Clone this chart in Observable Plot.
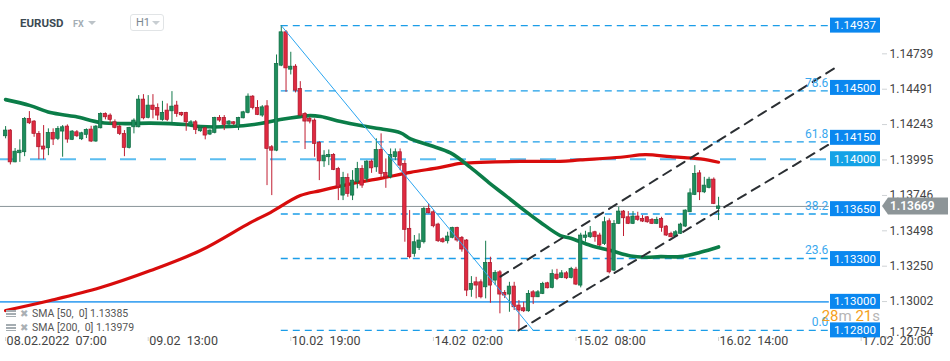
<!DOCTYPE html>
<html><head><meta charset="utf-8">
<script src="https://cdn.jsdelivr.net/npm/d3@7"></script>
<script src="https://cdn.jsdelivr.net/npm/@observablehq/plot@0.6"></script>
<style>
body{margin:0;background:#fff;font-family:Roboto,"Noto Sans",sans-serif;}
#wrap{position:relative;width:950px;height:361px;overflow:hidden;background:#fff;}
#wrap svg text{white-space:pre;}
.ov{position:absolute;white-space:pre;}
#sym{left:20px;top:16px;font-size:11.5px;font-weight:700;color:#3c4953;line-height:14px;}
#fx{left:73px;top:18px;font-size:9px;font-weight:700;color:#a3adb4;line-height:12px;}
.tri{position:absolute;width:0;height:0;border-left:4px solid transparent;border-right:4px solid transparent;border-top:4px solid #bcc3c8;}
#tf{left:130px;top:14px;width:34px;height:17px;border:1px solid #e1e4e6;border-radius:3px;box-sizing:border-box;}
#tf span{position:absolute;left:5px;top:1px;font-size:11px;color:#7b8790;line-height:14px;}
.leg{left:6px;font-size:10.5px;color:#555;line-height:12px;}
.ic{display:inline-block;width:10px;height:7px;vertical-align:0px;background:linear-gradient(#a5adb2 0 2px,transparent 2px 3px,#a5adb2 3px 5px,transparent 5px 6px,#a5adb2 6px 7px);}
.x{display:inline-block;color:#aab0b4;font-size:10px;margin:0 4px 0 4px;}
#cd{right:70px;top:307px;font-size:15px;line-height:18px;color:#b5b5b5;}
#cd b{font-weight:400;color:#f5a020;}
</style></head><body><div id="wrap"></div><script>
// ---- data ----
const open = [1.14161,1.14201,1.13978,1.14042,1.14049,1.14283,1.14264,1.14178,1.14089,1.14077,
1.14185,1.14143,1.14194,1.14229,1.14136,1.14189,1.14140,1.14171,1.14208,1.14124,
1.14217,1.14318,1.14306,1.14259,1.14229,1.14178,1.14079,1.14224,1.14224,1.14418,
1.14290,1.14376,1.14360,1.14276,1.14341,1.14336,1.14376,1.14325,1.14325,1.14236,
1.14259,1.14196,1.14217,1.14173,1.14185,1.14290,1.14290,1.14243,1.14259,1.14224,
1.14287,1.14325,1.14439,1.14360,1.14306,1.14371,1.14084,1.14060,1.14656,1.14890,
1.14628,1.14649,1.14493,1.14318,1.14283,1.14271,1.14114,1.13985,1.14014,1.14030,
1.13932,1.13745,1.13869,1.13745,1.13838,1.13932,1.13862,1.13983,1.13943,1.14065,
1.13904,1.13873,1.14014,1.14049,1.13967,1.13512,1.13336,1.13378,1.13418,1.13652,
1.13628,1.13542,1.13439,1.13425,1.13449,1.13519,1.13449,1.13430,1.13084,1.13137,
1.13137,1.13102,1.13273,1.13149,1.13207,1.13063,1.13051,1.13107,1.12974,1.12955,
1.12934,1.13067,1.13032,1.13056,1.13130,1.13098,1.13191,1.13168,1.13200,1.13168,
1.13226,1.13114,1.13449,1.13453,1.13488,1.13465,1.13406,1.13565,1.13219,1.13547,
1.13633,1.13593,1.13547,1.13598,1.13582,1.13593,1.13575,1.13547,1.13582,1.13528,
1.13477,1.13458,1.13477,1.13528,1.13628,1.13750,1.13901,1.13768,1.13799,1.13857,
1.13652];
const high = [1.14229,1.14208,1.14075,1.14136,1.14292,1.14334,1.14271,1.14194,1.14236,1.14213,
1.14213,1.14229,1.14236,1.14241,1.14201,1.14201,1.14189,1.14213,1.14231,1.14236,
1.14325,1.14325,1.14318,1.14276,1.14236,1.14201,1.14224,1.14283,1.14446,1.14453,
1.14446,1.14453,1.14388,1.14406,1.14388,1.14474,1.14406,1.14329,1.14329,1.14271,
1.14271,1.14236,1.14224,1.14206,1.14294,1.14306,1.14306,1.14271,1.14264,1.14294,
1.14336,1.14458,1.14446,1.14411,1.14376,1.14411,1.14096,1.14731,1.14937,1.14902,
1.14750,1.14663,1.14544,1.14327,1.14294,1.14283,1.14124,1.14060,1.14065,1.14039,
1.13943,1.13908,1.13897,1.13920,1.13978,1.13955,1.13990,1.13995,1.14143,1.14178,
1.14002,1.14072,1.14072,1.14072,1.13990,1.13640,1.13465,1.13477,1.13663,1.13687,
1.13640,1.13551,1.13449,1.13488,1.13523,1.13523,1.13458,1.13437,1.13177,1.13172,
1.13154,1.13425,1.13313,1.13219,1.13219,1.13079,1.13137,1.13137,1.13009,1.12997,
1.13079,1.13079,1.13079,1.13137,1.13137,1.13224,1.13228,1.13219,1.13212,1.13242,
1.13242,1.13481,1.13495,1.13528,1.13495,1.13481,1.13593,1.13582,1.13570,1.13663,
1.13640,1.13633,1.13633,1.13628,1.13605,1.13598,1.13584,1.13593,1.13593,1.13535,
1.13488,1.13500,1.13551,1.13645,1.13792,1.13955,1.13920,1.13873,1.13873,1.13869,
1.13733];
const low = [1.14143,1.13960,1.13975,1.13978,1.14018,1.14243,1.14154,1.13997,1.13997,1.14025,
1.14096,1.14131,1.14014,1.14112,1.14131,1.14152,1.14131,1.14145,1.14117,1.14119,
1.14213,1.14276,1.14248,1.14213,1.14166,1.14018,1.14072,1.14178,1.14220,1.14276,
1.14283,1.14283,1.14271,1.14266,1.14264,1.14252,1.14294,1.14299,1.14196,1.14224,
1.14173,1.14189,1.14136,1.14166,1.14178,1.14259,1.14201,1.14236,1.14236,1.14201,
1.14283,1.14318,1.14346,1.14306,1.14294,1.13815,1.13745,1.14053,1.14649,1.14469,
1.14591,1.14465,1.14300,1.14068,1.14248,1.14014,1.13850,1.13943,1.13955,1.13920,
1.13710,1.13710,1.13733,1.13710,1.13792,1.13796,1.13838,1.13901,1.13908,1.13873,
1.13796,1.13862,1.13990,1.13920,1.13418,1.13301,1.13313,1.13360,1.13406,1.13617,
1.13519,1.13416,1.13411,1.13406,1.13442,1.13418,1.13348,1.13037,1.13032,1.13021,
1.13021,1.13021,1.12990,1.13114,1.12916,1.13023,1.12927,1.12939,1.12800,1.12925,
1.12927,1.12981,1.13030,1.13051,1.13091,1.13091,1.13149,1.13163,1.13156,1.13161,
1.13114,1.13098,1.13418,1.13444,1.13418,1.13388,1.13395,1.13196,1.13212,1.13542,
1.13458,1.13542,1.13542,1.13565,1.13556,1.13551,1.13542,1.13542,1.13488,1.13458,
1.13449,1.13451,1.13472,1.13521,1.13626,1.13745,1.13710,1.13759,1.13792,1.13682,
1.13570];
const close = [1.14201,1.13978,1.14053,1.14060,1.14283,1.14252,1.14178,1.14084,1.14068,1.14185,
1.14138,1.14213,1.14224,1.14138,1.14194,1.14161,1.14182,1.14206,1.14124,1.14229,
1.14318,1.14294,1.14276,1.14220,1.14178,1.14079,1.14220,1.14271,1.14418,1.14287,
1.14376,1.14346,1.14306,1.14325,1.14276,1.14369,1.14318,1.14308,1.14259,1.14259,
1.14206,1.14220,1.14166,1.14201,1.14290,1.14271,1.14241,1.14264,1.14248,1.14290,
1.14329,1.14439,1.14360,1.14311,1.14364,1.14072,1.14060,1.14668,1.14890,1.14637,
1.14649,1.14481,1.14306,1.14264,1.14264,1.14107,1.13985,1.14025,1.14030,1.13925,
1.13803,1.13869,1.13757,1.13850,1.13932,1.13815,1.13983,1.13936,1.14065,1.13897,
1.13873,1.14030,1.14049,1.13955,1.13505,1.13313,1.13418,1.13430,1.13652,1.13621,
1.13530,1.13425,1.13418,1.13458,1.13519,1.13430,1.13367,1.13079,1.13126,1.13114,
1.13032,1.13273,1.13114,1.13203,1.13051,1.13044,1.13107,1.12962,1.12939,1.12934,
1.13056,1.13032,1.13067,1.13126,1.13095,1.13196,1.13161,1.13200,1.13165,1.13231,
1.13121,1.13465,1.13465,1.13481,1.13453,1.13395,1.13558,1.13207,1.13547,1.13633,
1.13586,1.13547,1.13598,1.13575,1.13563,1.13558,1.13547,1.13575,1.13519,1.13465,
1.13453,1.13488,1.13542,1.13640,1.13761,1.13897,1.13768,1.13815,1.13857,1.13687,
1.13669];
// SMA lines: [candle index, value]
const sma50 = [[0,1.14418],[5.2,1.14376],[9.4,1.14327],[14.7,1.14299],[20,1.14257],[25.2,1.14250],[30.5,1.14253],[37.8,1.14243],[41,1.14229],[47.3,1.14229],[53.6,1.14250],[57.8,1.14278],[62,1.14299],[64.1,1.14306],[66.3,1.14299],[70.5,1.14264],[74.7,1.14236],[78.9,1.14213],[83.1,1.14185],[85.2,1.14143],[89.4,1.14096],[93.6,1.14044],[97.8,1.13943],[102,1.13827],[105.2,1.13745],[108.3,1.13663],[112.5,1.13558],[116.7,1.13465],[118.9,1.13446],[123.1,1.13395],[127.3,1.13360],[131.5,1.13322],[134.6,1.13313],[137.8,1.13317],[142,1.13317],[146.2,1.13348],[150,1.13385]];
const sma200 = [[0,1.12939],[9.4,1.13009],[20,1.13100],[30.5,1.13219],[41,1.13360],[51.5,1.13556],[55.7,1.13626],[62,1.13745],[66.3,1.13780],[72.6,1.13827],[78.9,1.13866],[85.2,1.13908],[91.5,1.13943],[95.7,1.13971],[99.9,1.13978],[108.3,1.13985],[116.7,1.13985],[120.9,1.13995],[129.4,1.14014],[134.6,1.14032],[139.9,1.14018],[146.2,1.14002],[150,1.13979]];
// drawings
const fibLevels = [1.12800,1.13304,1.13616,1.14121,1.14480,1.14937];
const fibLabels = ["0.0","23.6","38.2","61.8","78.6",""];
const fibStart = 58, lineEnd = 173.3;
const fibDiagonal = [[58,1.14937],[111,1.12800]];
const channelUpper = [[104.1,1.13177],[174.6,1.14642]];
const channelLower = [[107.9,1.12799],[174.6,1.14131]];
const hLine14000 = 1.14000, hLine13000 = 1.13000, lastPrice = 1.13669;
const tagValues = [1.14937,1.14500,1.14150,1.14000,1.13650,1.13300,1.13000,1.12800];
const yTicks = [1.12754,1.13002,1.13250,1.13498,1.13746,1.13995,1.14243,1.14491,1.14739];
const xTickIdx = [0,30,60,90,120,150,180];
const xTickLabels = ["08.02.2022  07:00","09.02  13:00","10.02  19:00","14.02  02:00","15.02  08:00","16.02  14:00","17.02  20:00"];

// ---- chart ----
const W=950,H=361,MR=69,MB=24;
const X0=-1.073, X1=184.28;
const candles = open.map((o,i)=>({i,o,h:high[i],l:low[i],c:close[i]}));
const minB = 0.00005;
const bTop = d=>Math.abs(d.c-d.o)<minB?(d.o+d.c)/2+minB/2:Math.max(d.o,d.c);
const bBot = d=>Math.abs(d.c-d.o)<minB?(d.o+d.c)/2-minB/2:Math.min(d.o,d.c);
const up = candles.filter(d=>d.c>=d.o), dn = candles.filter(d=>d.c<d.o);
const fibData = fibLevels.map((p,k)=>({p,label:fibLabels[k]}));
const xTicks = xTickIdx.map((i,k)=>({i,label:xTickLabels[k]}));
const fmt = d=>d.toFixed(5);

const plot = Plot.plot({
  width: W, height: H, marginLeft: 0, marginRight: MR, marginTop: 0, marginBottom: MB,
  style: {fontFamily: "Roboto, sans-serif", fontSize: "12px", background: "#fff", color: "#444"},
  x: {type: "linear", domain: [X0, X1], axis: null, label: null},
  y: {domain: [1.12750, 1.15113], axis: null, label: null},
  marks: [
    Plot.ruleY([hLine14000], {x1: X0, x2: lineEnd, stroke: "#5bbdf0", strokeWidth: 2, strokeDasharray: "16,14"}),
    Plot.ruleY(fibData, {y: "p", x1: fibStart, x2: lineEnd, stroke: "#1b9de8", strokeWidth: 1.3, strokeDasharray: "7,5"}),
    Plot.ruleY([hLine13000], {x1: X0, x2: lineEnd, stroke: "#47a7f2", strokeWidth: 1.8}),
    Plot.ruleY([lastPrice], {x1: X0, x2: lineEnd, stroke: "#8a9499", strokeWidth: 1}),
    Plot.line(sma200, {stroke: "#d80c0c", strokeWidth: 3.2, curve: "catmull-rom"}),
    Plot.line(sma50, {stroke: "#0b7d48", strokeWidth: 3.6, curve: "catmull-rom"}),
    Plot.ruleX(up, {x: "i", y1: "l", y2: "h", stroke: "#137a4b", strokeWidth: 1}),
    Plot.ruleX(dn, {x: "i", y1: "l", y2: "h", stroke: "#c01e32", strokeWidth: 1}),
    Plot.rect(up, {x1: d=>d.i-0.36, x2: d=>d.i+0.36, y1: bBot, y2: bTop, fill: "#1e8d5c", stroke: "#0f6b42", strokeWidth: 0.7}),
    Plot.rect(dn, {x1: d=>d.i-0.36, x2: d=>d.i+0.36, y1: bBot, y2: bTop, fill: "#df2a40", stroke: "#a8172a", strokeWidth: 0.7}),
    Plot.line(fibDiagonal, {stroke: "#2aa5f0", strokeWidth: 1}),
    Plot.line(channelUpper, {stroke: "#2b2f33", strokeWidth: 2, strokeDasharray: "9,7"}),
    Plot.line(channelLower, {stroke: "#2b2f33", strokeWidth: 2, strokeDasharray: "9,7"}),
    Plot.text(fibData, {x: lineEnd, y: "p", text: "label", textAnchor: "end", dy: -8, dx: -1, fill: "#3aa8ee", fontSize: 12}),
    Plot.axisY(yTicks, {anchor: "right", label: null, tickSize: 5, tickPadding: 3, stroke: "#cfd3d6", fill: "#444", fontSize: 12,
      tickFormat: d => d === yTicks[0] ? "" : fmt(d)}),
    Plot.text([yTicks[0]], {y: d=>d, text: fmt, frameAnchor: "right", textAnchor: "start", dx: 8, dy: -5, fill: "#444", fontSize: 12}),
    Plot.axisX(xTickIdx, {anchor: "bottom", label: null, tickSize: 4, stroke: "#d0d0d0", tickFormat: () => ""}),
    Plot.text(xTicks, {x: "i", text: "label", frameAnchor: "bottom", textAnchor: "start", dx: 1, dy: 7, fill: "#444", fontSize: 12.5})
  ]
});
document.getElementById("wrap").appendChild(plot);

// price tags (positioned by the y scale)
const ys = plot.scale("y");
const svg = d3.select(plot);
const right = W - MR;
const g = svg.append("g").attr("text-anchor", "start");
tagValues.forEach(v => {
  const y = ys.apply(v);
  g.append("rect").attr("x", right-51).attr("y", y-7.5).attr("width", 50).attr("height", 15)
    .attr("fill", v === hLine14000 ? "#14a2e6" : "#0a87ef");
  g.append("text").attr("x", right-26).attr("y", y).attr("dy", "0.36em").attr("text-anchor", "middle")
    .attr("fill", "#fff").attr("font-size", 11.5).text(fmt(v));
});
{
  const y = ys.apply(lastPrice);
  g.append("path").attr("d", `M${right+1},${y} L${right+7},${y-8.5} H${W-2} V${y+8.5} H${right+7} Z`).attr("fill", "#8d9598");
  g.append("text").attr("x", right+9).attr("y", y).attr("dy", "0.36em").attr("text-anchor", "start").attr("fill", "#fff")
    .attr("font-size", 12).attr("font-weight", 600).text(fmt(lastPrice));
}

// header, legend, countdown
const wrap = document.getElementById("wrap");
wrap.insertAdjacentHTML("beforeend", `
<div class="ov" id="sym">EURUSD</div>
<div class="ov" id="fx">FX</div>
<div class="tri" style="left:88px;top:21px"></div>
<div class="ov" id="tf"><span>H1</span><div class="tri" style="left:21px;top:6px;border-top-color:#c8ced2"></div></div>
<div class="ov leg" style="top:308px"><span class="ic"></span><span class="x">✖</span>SMA [50,  0] 1.13385</div>
<div class="ov leg" style="top:322px"><span class="ic"></span><span class="x">✖</span>SMA [200,  0] 1.13979</div>
<div class="ov" id="cd"><b>28</b>m <b>21</b>s</div>
`);
</script></body></html>
